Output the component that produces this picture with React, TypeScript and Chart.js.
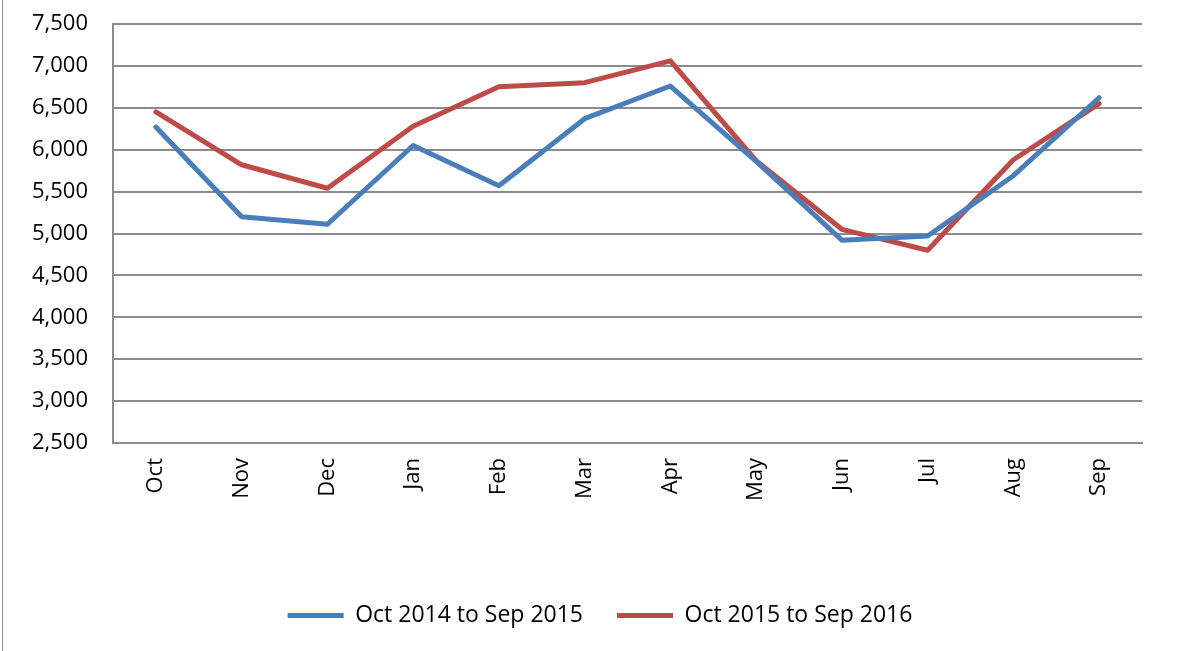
import React, { useEffect, useRef } from "react";
import { Chart, registerables } from "chart.js";

Chart.register(...registerables);

const categories = ["Oct", "Nov", "Dec", "Jan", "Feb", "Mar", "Apr", "May", "Jun", "Jul", "Aug", "Sep"];
const series2015 = [6270, 5200, 5110, 6050, 5570, 6370, 6760, 5860, 4920, 4970, 5690, 6620];
const series2016 = [6450, 5820, 5540, 6280, 6750, 6800, 7060, 5870, 5050, 4800, 5880, 6550];
const seriesNames = ["Oct 2014 to Sep 2015", "Oct 2015 to Sep 2016"];
const seriesColors = ["#4A7EBB", "#BE4B48"];
const yMin = 2500;
const yMax = 7500;
const yStep = 500;

const FONT = "'Open Sans', 'DejaVu Sans', sans-serif";
const LEGEND_SHIFT = 29;
const GRID = "#8c8c8c";

const legendShift = {
  id: "legendShift",
  afterLayout(chart: any) {
    const lg = chart.legend;
    if (lg) {
      lg.left += LEGEND_SHIFT;
      lg.right += LEGEND_SHIFT;
    }
  },
};

export default function App() {
  const ref = useRef<HTMLCanvasElement | null>(null);

  useEffect(() => {
    if (!ref.current) return;
    const chart = new Chart(ref.current, {
      type: "line",
      data: {
        labels: categories,
        datasets: [series2015, series2016].map((d, i) => ({
          label: seriesNames[i],
          data: d,
          borderColor: seriesColors[i],
          backgroundColor: seriesColors[i],
          borderWidth: 5,
          borderCapStyle: "round" as const,
          borderJoinStyle: "round" as const,
          pointRadius: 0,
          tension: 0,
          fill: false,
        })),
      },
      plugins: [legendShift],
      options: {
        responsive: false,
        animation: false,
        layout: { padding: { left: 0, right: 42, top: 24, bottom: 14 } },
        plugins: {
          tooltip: { enabled: false },
          legend: {
            position: "bottom",
            labels: {
              font: { family: FONT, size: 23 },
              color: "#000",
              boxWidth: 56,
              boxHeight: 5,
              padding: 34,
              generateLabels: (c: any) =>
                c.data.datasets.map((ds: any, i: number) => ({
                  text: ds.label,
                  fillStyle: ds.borderColor,
                  strokeStyle: ds.borderColor,
                  lineWidth: 0,
                  hidden: false,
                  datasetIndex: i,
                  fontColor: "#000",
                })),
            },
          },
        },
        scales: {
          x: {
            offset: true,
            grid: { display: false, drawTicks: true, tickLength: 15, tickColor: "rgba(0,0,0,0)" },
            border: { display: true, color: GRID, width: 2 },
            ticks: {
              font: { family: FONT, size: 22 },
              color: "#000",
              minRotation: 90,
              maxRotation: 90,
              padding: 0,
              autoSkip: false,
            },
            afterFit: (s: any) => {
              s.height = 127;
            },
          },
          y: {
            min: yMin,
            max: yMax,
            grid: { color: GRID, lineWidth: 2, drawTicks: true, tickLength: 25, tickColor: "rgba(0,0,0,0)" },
            border: { display: true, color: GRID, width: 2 },
            ticks: {
              stepSize: yStep,
              font: { family: FONT, size: 22 },
              color: "#000",
              padding: 0,
              callback: (v: any) => Number(v).toLocaleString("en-US"),
            },
            afterFit: (s: any) => {
              s.width = 113;
            },
          },
        },
      },
    });
    return () => chart.destroy();
  }, []);

  return (
    <div style={{ position: "absolute", left: 0, top: 0, width: 1184, height: 651, background: "#fff", overflow: "hidden" }}>
      <div style={{ position: "absolute", left: 2, top: 0, width: 1, height: 651, background: "#8a8a8a" }} />
      <canvas ref={ref} width={1184} height={651} style={{ position: "absolute", left: 0, top: 0 }} />
    </div>
  );
}
